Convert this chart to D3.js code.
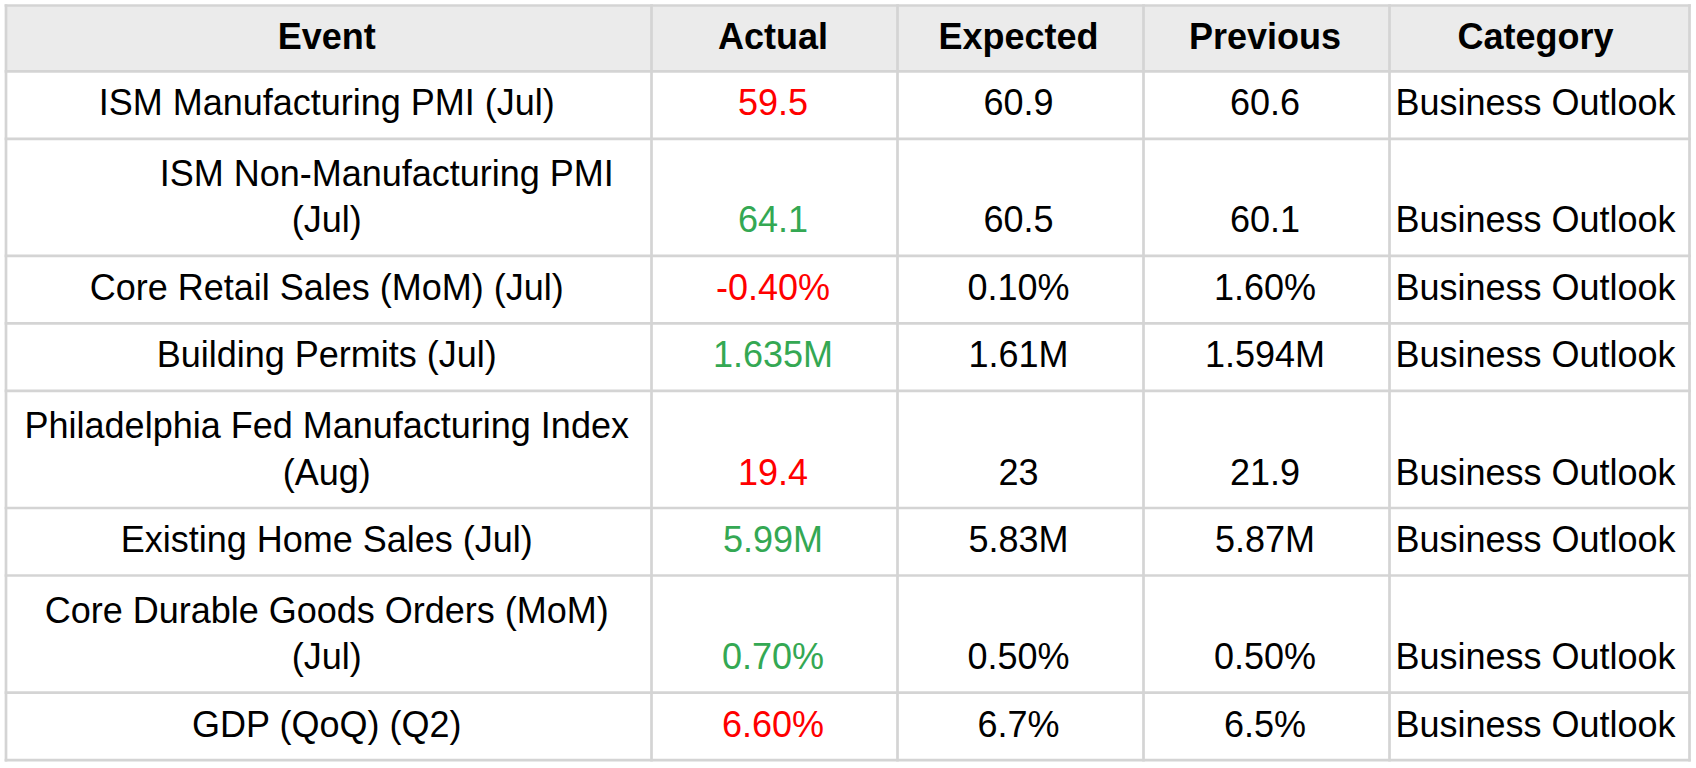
<!DOCTYPE html>
<html>
<head>
<meta charset="utf-8">
<script src="https://cdn.jsdelivr.net/npm/d3@7"></script>
<style>
  html, body { margin: 0; padding: 0; background: #ffffff; }
  svg { display: block; }
</style>
</head>
<body>
<svg id="chart" width="1696" height="768"></svg>
<script>
// ---- data ----
const headers = ["Event", "Actual", "Expected", "Previous", "Category"];
const events = [
  ["ISM Manufacturing PMI (Jul)"],
  ["\u00a0\u00a0\u00a0\u00a0\u00a0\u00a0\u00a0\u00a0\u00a0\u00a0\u00a0\u00a0ISM Non-Manufacturing PMI", "(Jul)"],
  ["Core Retail Sales (MoM) (Jul)"],
  ["Building Permits (Jul)"],
  ["Philadelphia Fed Manufacturing Index", "(Aug)"],
  ["Existing Home Sales (Jul)"],
  ["Core Durable Goods Orders (MoM)", "(Jul)"],
  ["GDP (QoQ) (Q2)"]
];
const actual   = ["59.5", "64.1", "-0.40%", "1.635M", "19.4", "5.99M", "0.70%", "6.60%"];
const expected = ["60.9", "60.5", "0.10%", "1.61M", "23", "5.83M", "0.50%", "6.7%"];
const previous = ["60.6", "60.1", "1.60%", "1.594M", "21.9", "5.87M", "0.50%", "6.5%"];
const category = ["Business Outlook", "Business Outlook", "Business Outlook", "Business Outlook",
                  "Business Outlook", "Business Outlook", "Business Outlook", "Business Outlook"];

// ---- layout ----
const colWidths = [645.5, 246, 246, 246, 300];
const textShift = [-2, -1.5, -2, -1.5, -4];
const leftX = 6, topY = 5.5;
const headerH = 65.8, singleH = 67.5, extraLineH = 49.6, lineGap = 46.5, baseFromBottom = 23.5;
const fontSize = 36;
const gridColor = "#d4d4d4", headerFill = "#ebebeb";
const upColor = "#34a853", downColor = "#ff0000";

const colEdges = d3.cumsum([leftX].concat(colWidths));
const colCenter = d3.scaleOrdinal().domain(headers)
  .range(headers.map((h, i) => (colEdges[i] + colEdges[i + 1]) / 2 + textShift[i]));

const rows = events.map((ev, i) => ({
  lines: ev, actual: actual[i], expected: expected[i], previous: previous[i], category: category[i],
  h: singleH + (ev.length - 1) * extraLineH
}));
const rowEdges = d3.cumsum([topY, headerH].concat(rows.map(r => r.h)));
rows.forEach((r, i) => { r.y0 = rowEdges[i + 1]; r.y1 = rowEdges[i + 2]; });

const svg = d3.select("#chart");
const W = colEdges[colEdges.length - 1];
const H = rowEdges[rowEdges.length - 1];

svg.append("rect").attr("width", 1696).attr("height", 768).attr("fill", "#fff");
svg.append("rect").attr("x", leftX).attr("y", topY).attr("width", W - leftX).attr("height", headerH).attr("fill", headerFill);

// grid lines
const g = svg.append("g").attr("stroke", gridColor).attr("stroke-width", 2.7);
g.selectAll("line.h").data(rowEdges).join("line").attr("class", "h")
  .attr("x1", leftX - 1.35).attr("x2", W + 1.35).attr("y1", d => d).attr("y2", d => d);
g.selectAll("line.v").data(colEdges).join("line").attr("class", "v")
  .attr("y1", topY - 1.35).attr("y2", H + 1.35).attr("x1", d => d).attr("x2", d => d);

const font = "'Liberation Sans', Arial, Helvetica, sans-serif";

// header text
svg.append("g").selectAll("text").data(headers).join("text")
  .attr("x", d => colCenter(d)).attr("y", topY + headerH - baseFromBottom + 1)
  .attr("text-anchor", "middle").attr("font-family", font).attr("font-size", fontSize)
  .attr("font-weight", "bold").attr("fill", "#000").text(d => d);

// body
const body = svg.append("g").attr("font-family", font).attr("font-size", fontSize).attr("text-anchor", "middle");
rows.forEach(r => {
  const base = r.y1 - baseFromBottom;
  r.lines.forEach((ln, j) => {
    body.append("text").attr("x", colCenter("Event"))
      .attr("y", base - (r.lines.length - 1 - j) * lineGap)
      .attr("fill", "#000").text(ln);
  });
  const a = parseFloat(r.actual), e = parseFloat(r.expected);
  body.append("text").attr("x", colCenter("Actual")).attr("y", base)
    .attr("fill", a >= e ? upColor : downColor).text(r.actual);
  body.append("text").attr("x", colCenter("Expected")).attr("y", base).attr("fill", "#000").text(r.expected);
  body.append("text").attr("x", colCenter("Previous")).attr("y", base).attr("fill", "#000").text(r.previous);
  body.append("text").attr("x", colCenter("Category")).attr("y", base).attr("fill", "#000").text(r.category);
});
</script>
</body>
</html>
